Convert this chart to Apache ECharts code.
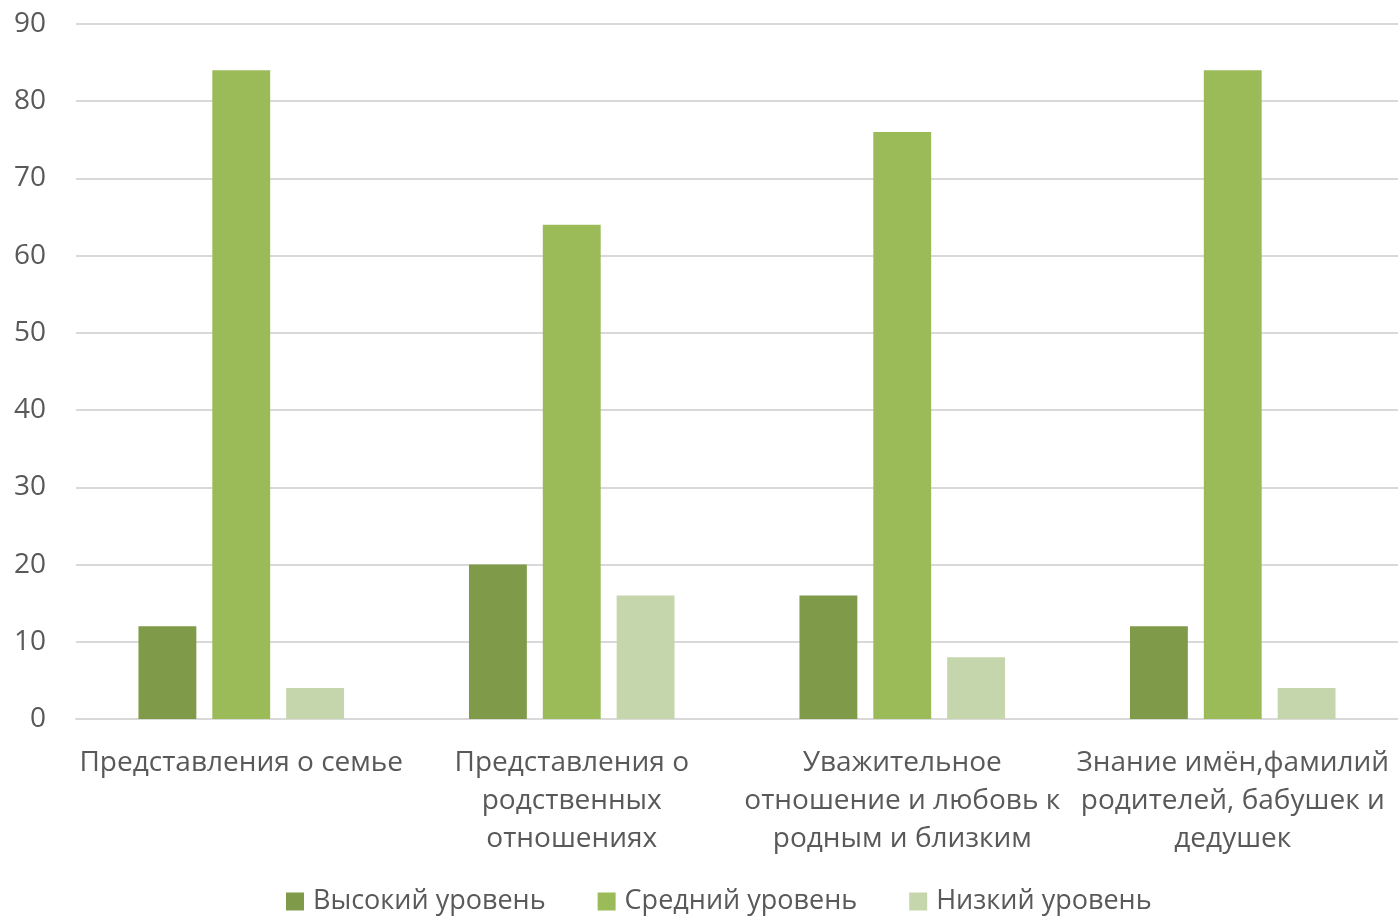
<!DOCTYPE html>
<html><head><meta charset="utf-8">
<script src="https://cdn.jsdelivr.net/npm/echarts@6/dist/echarts.min.js"></script>
<style>html,body{margin:0;padding:0;background:#fff}#c{width:1398px;height:918px}</style>
</head><body><div id="c"></div>
<script>
const categories = ['Представления о семье','Представления о\nродственных\nотношениях','Уважительное\nотношение и любовь к\nродным и близким','Знание имён,фамилий\nродителей, бабушек и\nдедушек'];
const seriesNames = ['Высокий уровень','Средний уровень','Низкий уровень'];
const high = [12, 20, 16, 12];
const mid = [84, 64, 76, 84];
const low = [4, 16, 8, 4];
const colors = ['#7F9A48','#9BBB59','#C6D6AC'];
const font = '"Open Sans", sans-serif';
const chart = echarts.init(document.getElementById('c'));
chart.setOption({
  animation:false,
  grid:{left:76,right:0,top:24,bottom:199,outerBoundsMode:'none',containLabel:false},
  legend:{bottom:-2,left:281,itemWidth:18,itemHeight:18,itemGap:52,icon:'rect',
    textStyle:{fontFamily:font,fontSize:27,color:'#595959',padding:[0,0,0,4]},data:seriesNames},
  xAxis:{type:'category',data:categories,
    axisLine:{lineStyle:{color:'#D9D9D9',width:2}},axisTick:{show:false},
    axisLabel:{interval:0,margin:25,fontFamily:font,fontSize:28,color:'#595959',lineHeight:38,hideOverlap:false}},
  yAxis:{type:'value',min:0,max:90,interval:10,
    axisLine:{show:false},axisTick:{show:false},
    splitLine:{lineStyle:{color:'#D9D9D9',width:2}},
    axisLabel:{margin:30,fontFamily:font,fontSize:28,color:'#595959'}},
  series:[
    {name:seriesNames[0],type:'bar',data:high,itemStyle:{color:colors[0]},barGap:'27.6%',barCategoryGap:'37.8%'},
    {name:seriesNames[1],type:'bar',data:mid,itemStyle:{color:colors[1]}},
    {name:seriesNames[2],type:'bar',data:low,itemStyle:{color:colors[2]}}
  ]
});
</script></body></html>
